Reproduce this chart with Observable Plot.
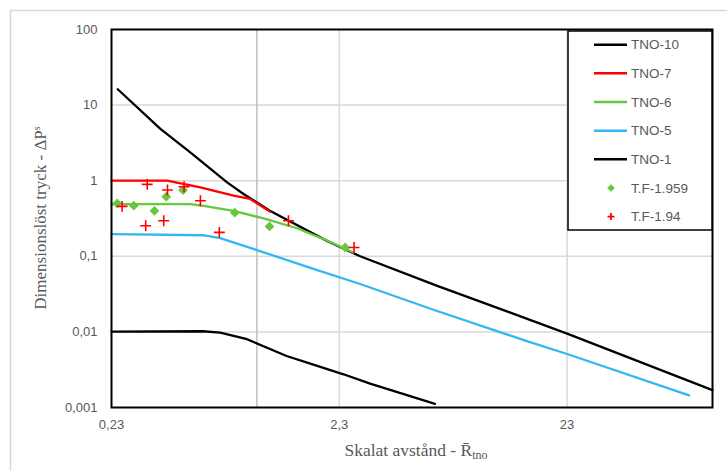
<!DOCTYPE html>
<html>
<head>
<meta charset="utf-8">
<script src="https://cdn.jsdelivr.net/npm/d3@7"></script>
<script src="https://cdn.jsdelivr.net/npm/@observablehq/plot@0.6"></script>
<style>
  html, body { margin: 0; padding: 0; background: white; }
  #chart { width: 727px; height: 471px; }
</style>
</head>
<body>
<div id="chart"></div>
<script>
// ---- data ----
const xTicks = [0.23, 2.3, 23];
const yTicks = [0.001, 0.01, 0.1, 1, 10, 100];
const seriesNames = ["TNO-10", "TNO-7", "TNO-6", "TNO-5", "TNO-1", "T.F-1.959", "T.F-1.94"];
const seriesColors = ["#000000", "#ff0000", "#66c83c", "#33b7f0", "#000000", "#66c83c", "#ff0000"];

const tno10X = [0.245, 0.377, 0.51, 0.74, 0.874, 1.14, 2.03, 2.84, 6.15, 23, 100];
const tno10Y = [16.2, 4.84, 2.37, 0.95, 0.667, 0.40, 0.16, 0.10, 0.041, 0.0095, 0.0017];

const tno7X = [0.23, 0.403, 0.565, 0.79, 0.934, 1.14];
const tno7Y = [1.0, 1.0, 0.815, 0.633, 0.573, 0.39];

const tno6X = [0.23, 0.51, 0.565, 0.79, 1.1, 1.5, 2.0, 2.65];
const tno6Y = [0.49, 0.49, 0.47, 0.40, 0.31, 0.235, 0.165, 0.112];

const tno5X = [0.23, 0.58, 0.69, 1.0, 1.77, 2.84, 6.0, 15.2, 23, 79];
const tno5Y = [0.197, 0.19, 0.174, 0.121, 0.068, 0.043, 0.0195, 0.0076, 0.0051, 0.00145];

const tno1X = [0.23, 0.58, 0.69, 0.905, 1.35, 1.77, 2.4, 3.14, 6.05];
const tno1Y = [0.0101, 0.0102, 0.0098, 0.008, 0.0048, 0.0037, 0.00275, 0.00207, 0.00112];

const tf1959X = [0.2436, 0.288, 0.355, 0.40, 0.474, 0.80, 1.136, 2.44];
const tf1959Y = [0.50, 0.467, 0.40, 0.614, 0.753, 0.377, 0.248, 0.131];

const tf194X = [0.256, 0.33, 0.405, 0.479, 0.565, 0.325, 0.39, 0.684, 1.376, 2.67];
const tf194Y = [0.457, 0.893, 0.753, 0.833, 0.543, 0.254, 0.295, 0.207, 0.295, 0.131];

const verticalMarker = [1];

// ---- build tables ----
const zip = (xs, ys) => xs.map((x, i) => ({x, y: ys[i]}));
const lineSeries = [
  {name: seriesNames[0], data: zip(tno10X, tno10Y), color: seriesColors[0]},
  {name: seriesNames[1], data: zip(tno7X, tno7Y), color: seriesColors[1]},
  {name: seriesNames[2], data: zip(tno6X, tno6Y), color: seriesColors[2]},
  {name: seriesNames[3], data: zip(tno5X, tno5Y), color: seriesColors[3]},
  {name: seriesNames[4], data: zip(tno1X, tno1Y), color: seriesColors[4]}
];
const fmt = d => String(d).replace(".", ",");

const chart = Plot.plot({
  width: 727,
  height: 471,
  marginLeft: 111,
  marginRight: 15,
  marginTop: 29,
  marginBottom: 64,
  style: {fontFamily: "'Liberation Sans', Arial, sans-serif", fontSize: "13px", color: "#595959", background: "white", overflow: "visible"},
  x: {type: "log", domain: [0.23, 100], ticks: xTicks, tickFormat: fmt, label: null, tickSize: 0, tickPadding: 12},
  y: {type: "log", domain: [0.001, 100], ticks: yTicks, tickFormat: fmt, label: null, tickSize: 0, tickPadding: 14},
  marks: [
    Plot.ruleY(yTicks.slice(1, -1), {stroke: "#d9d9d9", strokeWidth: 1.5}),
    Plot.ruleX(xTicks.slice(1), {stroke: "#d9d9d9", strokeWidth: 1.5}),
    Plot.ruleX(verticalMarker, {stroke: "#bfbfbf", strokeWidth: 1.5}),
    ...lineSeries.map(s => Plot.line(s.data, {x: "x", y: "y", stroke: s.color, strokeWidth: 2.3})),
    Plot.dot(zip(tf1959X, tf1959Y), {x: "x", y: "y", symbol: "square", rotate: 45, r: 3.9, fill: seriesColors[5], stroke: "none"}),
    Plot.dot(zip(tf194X, tf194Y), {x: "x", y: "y", symbol: "plus", r: 3.6, stroke: seriesColors[6], strokeWidth: 1.6}),
    Plot.frame({stroke: "black", strokeWidth: 2})
  ]
});

document.getElementById("chart").appendChild(chart);

const svg = d3.select(chart);

// outer chart border
svg.insert("rect", ":first-child")
  .attr("x", 10.5).attr("y", 10.5).attr("width", 740).attr("height", 480)
  .attr("fill", "none").attr("stroke", "#d9d9d9").attr("stroke-width", 1.5);

// legend
const lg = svg.append("g");
lg.append("rect").attr("x", 568).attr("y", 31).attr("width", 144).attr("height", 199)
  .attr("fill", "white").attr("stroke", "black").attr("stroke-width", 1.5);
seriesNames.forEach((name, i) => {
  const cy = 44.7 + i * 28.65;
  if (i < 5) {
    lg.append("line").attr("x1", 594).attr("x2", 627).attr("y1", cy).attr("y2", cy)
      .attr("stroke", seriesColors[i]).attr("stroke-width", 2.5);
  } else if (i === 5) {
    const s = 3.8;
    lg.append("path").attr("d", `M${611},${cy - s}L${611 + s},${cy}L${611},${cy + s}L${611 - s},${cy}Z`)
      .attr("fill", seriesColors[i]);
  } else {
    const s = 3.5;
    lg.append("path").attr("d", `M${611 - s},${cy}H${611 + s}M${611},${cy - s}V${cy + s}`)
      .attr("stroke", seriesColors[i]).attr("stroke-width", 1.8);
  }
  lg.append("text").attr("x", 631).attr("y", cy).attr("dy", "0.35em")
    .attr("text-anchor", "start")
    .attr("fill", "#595959").attr("font-size", 13.5).attr("font-family", "'Liberation Sans', Arial, sans-serif")
    .text(name);
});

// axis titles
const xt = svg.append("text").attr("x", 416).attr("y", 456).attr("text-anchor", "middle")
  .attr("fill", "#595959").attr("font-size", 17.5).attr("font-family", "'Liberation Serif', 'DejaVu Serif', serif");
xt.append("tspan").text("Skalat avstånd - R\u0304");
xt.append("tspan").attr("font-size", 12).attr("dy", 3).text("tno");

const yt = svg.append("text").attr("transform", "translate(46,218) rotate(-90)").attr("text-anchor", "middle")
  .attr("fill", "#595959").attr("font-size", 17).attr("font-family", "'Liberation Serif', 'DejaVu Serif', serif");
yt.append("tspan").text("Dimensionslöst tryck - ΔP");
yt.append("tspan").attr("font-size", 10).attr("dy", -6).text("s");
</script>
</body>
</html>
